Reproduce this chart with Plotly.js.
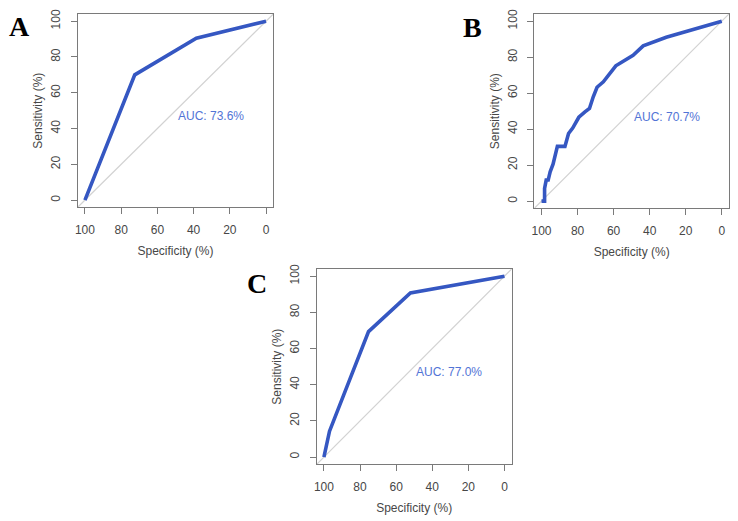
<!DOCTYPE html>
<html>
<head>
<meta charset="utf-8">
<script src="https://cdn.plot.ly/plotly-3.0.1.min.js"></script>
<style>
  html, body { margin: 0; padding: 0; background: #ffffff; }
  #chart { width: 738px; height: 521px; }
</style>
</head>
<body>
<div id="chart"></div>
<script>
// ROC curves: specificity (%) on a reversed x axis, sensitivity (%) on y.
const specA = [100, 72.5, 38.5, 0];
const sensA = [0, 70, 90.5, 100];

const specB = [100, 98.3, 98.3, 97.4, 96.3, 95.2, 93.6, 91.2, 87.0, 85.0, 82.7,
               79.3, 75.9, 73.4, 71.3, 69.2, 65.7, 58.8, 49.2, 43.6, 30.8, 15.5, 0];
const sensB = [0, 0, 7, 11.7, 11.7, 16.3, 20.5, 30.4, 30.4, 37.6, 40.6,
               46.6, 49.6, 51.5, 58, 63.3, 66.3, 75.2, 81.1, 86.3, 91.1, 95.3, 100];

const specC = [100, 96.9, 75.3, 52.1, 0];
const sensC = [0, 14.3, 69.4, 90.8, 100];

const panelLetters = ['A', 'B', 'C'];
const aucLabels = ['AUC: 73.6%', 'AUC: 70.7%', 'AUC: 77.0%'];
const xTicks = [100, 80, 60, 40, 20, 0];
const yTicks = [0, 20, 40, 60, 80, 100];

const LIM = [-4, 104];          // axis limits for both axes
const CURVE = '#3557c2';
const AUC_COL = '#5274d6';
const LINE = '#7a7a7a';
const TEXT = '#474747';
const FONT = 'Liberation Sans, Arial, sans-serif';

const W = 738, H = 521;
// plot boxes in pixels: [left, right, top, bottom]
const boxes = [
  [77.7, 273.3, 14, 207.3],
  [534.3, 729, 14, 208.3],
  [316.7, 511.7, 269, 464.3]
];
const letterPos = [[19, 27], [472, 27.5], [257, 283]];

const series = [[specA, sensA], [specB, sensB], [specC, sensC]];

const data = [];
const layout = {
  width: W, height: H,
  margin: {l: 0, r: 0, t: 0, b: 0},
  paper_bgcolor: '#ffffff',
  plot_bgcolor: '#ffffff',
  showlegend: false,
  font: {family: FONT, color: TEXT, size: 12},
  annotations: []
};

series.forEach(([spec, sens], i) => {
  const n = i === 0 ? '' : String(i + 1);
  const xa = 'x' + n, ya = 'y' + n;
  // identity line across the whole plotting region
  data.push({
    x: [LIM[1], LIM[0]], y: [LIM[0], LIM[1]],
    xaxis: xa, yaxis: ya, mode: 'lines', hoverinfo: 'skip',
    line: {color: '#d2d2d2', width: 1.2}
  });
  data.push({
    x: spec, y: sens, xaxis: xa, yaxis: ya, mode: 'lines',
    line: {color: CURVE, width: 3.6}
  });

  const [l, r, t, b] = boxes[i];
  const common = {
    showline: true, mirror: true, linecolor: LINE, linewidth: 1,
    ticks: 'outside', ticklen: 6, tickcolor: LINE, tickwidth: 1,
    showgrid: false, zeroline: false, fixedrange: true,
    tickfont: {family: FONT, size: 12, color: TEXT}
  };
  layout['xaxis' + n] = Object.assign({}, common, {
    domain: [l / W, r / W], anchor: ya,
    range: [LIM[1], LIM[0]],
    tickvals: xTicks, ticktext: xTicks.map(String),
    ticklabelstandoff: 5,
    title: {text: 'Specificity (%)', font: {family: FONT, size: 12, color: TEXT}, standoff: 10}
  });
  layout['yaxis' + n] = Object.assign({}, common, {
    domain: [1 - b / H, 1 - t / H], anchor: xa,
    range: LIM, tickangle: -90,
    tickvals: yTicks, ticktext: yTicks.map(String),
    ticklabelstandoff: 6,
    title: {text: 'Sensitivity (%)', font: {family: FONT, size: 12, color: TEXT}, standoff: 3}
  });

  layout.annotations.push({
    xref: xa, yref: ya, x: 50, y: 47, xanchor: 'left', yanchor: 'middle',
    text: aucLabels[i], showarrow: false,
    font: {family: FONT, size: 12, color: AUC_COL}
  });
  layout.annotations.push({
    xref: 'paper', yref: 'paper',
    x: letterPos[i][0] / W, y: 1 - letterPos[i][1] / H,
    xanchor: 'center', yanchor: 'middle',
    text: '<b>' + panelLetters[i] + '</b>', showarrow: false,
    font: {family: 'Liberation Serif, Times New Roman, serif', size: 28, color: '#000000'}
  });
});

Plotly.newPlot('chart', data, layout, {displayModeBar: false, staticPlot: true});
</script>
</body>
</html>
